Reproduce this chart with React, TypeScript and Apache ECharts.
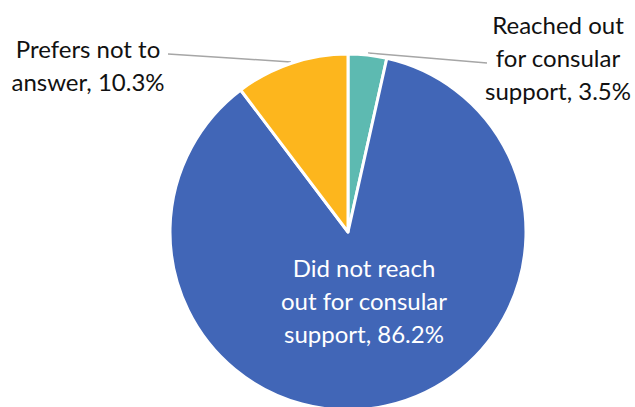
import React, { useEffect, useRef } from "react";
import * as echarts from "echarts";

const categories = [
  "Reached out\nfor consular\nsupport",
  "Did not reach\nout for consular\nsupport",
  "Prefers not to\nanswer",
];
const values = [3.5, 86.2, 10.3];
const colors = ["#5DBAB1", "#4166B7", "#FDB61D"];

export default function App() {
  const ref = useRef<HTMLDivElement>(null);
  useEffect(() => {
    if (!ref.current) return;
    const chart = echarts.init(ref.current, undefined, { renderer: "svg" });
    const labelPos: Record<number, any> = {
      0: { x: 558, y: 57, labelLinePoints: [[368, 53], [428, 58], [487, 63]] },
      1: { x: 364, y: 300 },
      2: { x: 88, y: 65, labelLinePoints: [[291, 62], [230, 58], [168, 54]] },
    };
    chart.setOption({
      animation: false,
      backgroundColor: "#ffffff",
      series: [
        {
          type: "pie",
          center: [348, 232],
          radius: 178,
          startAngle: 90,
          clockwise: true,
          itemStyle: { borderColor: "#ffffff", borderWidth: 3 },
          label: {
            show: true,
            position: "outside",
            fontFamily: "Lato",
            fontSize: 24,
            lineHeight: 33,
            color: "#111111",
            align: "center",
            verticalAlign: "middle",
            formatter: (p: any) => `${p.name}, ${p.value}%`,
          },
          labelLine: {
            show: true,
            lineStyle: { color: "#a6a6a6", width: 1.5 },
          },
          labelLayout: (params: any) => ({
            ...labelPos[params.dataIndex],
            align: "center",
            verticalAlign: "middle",
          }),
          data: categories.map((name, i) => ({
            name,
            value: values[i],
            itemStyle: { color: colors[i] },
            ...(i === 1
              ? {
                  label: { position: "inside", color: "#ffffff" },
                  labelLine: { show: false },
                }
              : {}),
          })),
        },
      ],
    });
    return () => chart.dispose();
  }, []);
  return (
    <div
      ref={ref}
      style={{ position: "fixed", left: 0, top: 0, width: 635, height: 407 }}
    />
  );
}
